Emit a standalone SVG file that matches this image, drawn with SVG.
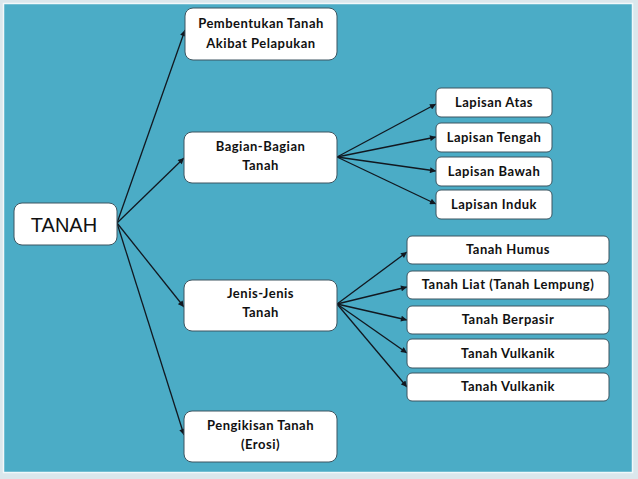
<svg xmlns="http://www.w3.org/2000/svg" width="638" height="479" viewBox="0 0 638 479">
<defs>
<marker id="ah" viewBox="0 0 10 10" refX="10" refY="5" markerWidth="7" markerHeight="6" markerUnits="userSpaceOnUse" orient="auto">
<path d="M0,0 L10,5 L0,10 z" fill="#111820"/>
</marker>
<style>
.box{fill:#ffffff;stroke:#3d5560;stroke-width:1}
.t{font-family:Lato,"Open Sans",sans-serif;font-weight:bold;font-size:13px;fill:#111;text-anchor:middle;letter-spacing:0.5px}
.root{font-family:"Liberation Sans",Arial,sans-serif;font-size:20px;fill:#111;text-anchor:middle}
.c line{stroke:#111820;stroke-width:1.3;marker-end:url(#ah)}
</style>
</defs>
<rect x="0" y="0" width="638" height="479" fill="#dbe7ec"/>
<rect x="3.5" y="3.5" width="629" height="469" fill="#4bacc6" stroke="#f2f8fa" stroke-width="1.5"/>

<g class="c" id="connectors">
<line x1="117" y1="223" x2="185" y2="30"/>
<line x1="117" y1="223" x2="184" y2="158"/>
<line x1="117" y1="223" x2="184" y2="307"/>
<line x1="117" y1="223" x2="184" y2="435"/>
<line x1="337" y1="157" x2="436" y2="104"/>
<line x1="337" y1="157" x2="436" y2="137"/>
<line x1="337" y1="157" x2="436" y2="171"/>
<line x1="337" y1="157" x2="436" y2="204"/>
<line x1="337" y1="304" x2="407" y2="252"/>
<line x1="337" y1="304" x2="407" y2="287"/>
<line x1="337" y1="304" x2="407" y2="320"/>
<line x1="337" y1="304" x2="407" y2="353"/>
<line x1="337" y1="304" x2="407" y2="387"/>
</g>

<g id="tanah"><rect class="box" x="14" y="203" width="103" height="42" rx="8"/><text class="root" x="64" y="232">TANAH</text></g>

<g id="pembentukan"><rect class="box" x="185" y="8" width="152" height="52" rx="8"/><text class="t" x="261" y="28">Pembentukan Tanah</text><text class="t" x="261" y="48">Akibat Pelapukan</text></g>
<g id="bagian"><rect class="box" x="184" y="132" width="153" height="51" rx="8"/><text class="t" x="260.5" y="151">Bagian-Bagian</text><text class="t" x="260.5" y="170">Tanah</text></g>
<g id="jenis"><rect class="box" x="184" y="280" width="153" height="51" rx="8"/><text class="t" x="260.5" y="298">Jenis-Jenis</text><text class="t" x="260.5" y="317">Tanah</text></g>
<g id="pengikisan"><rect class="box" x="184" y="411" width="153" height="51" rx="8"/><text class="t" x="260.5" y="430">Pengikisan Tanah</text><text class="t" x="260.5" y="449">(Erosi)</text></g>

<g id="lapisan-atas"><rect class="box" x="436" y="88" width="116" height="29" rx="5"/><text class="t" x="494" y="107">Lapisan Atas</text></g>
<g id="lapisan-tengah"><rect class="box" x="436" y="123" width="116" height="29" rx="5"/><text class="t" x="494" y="142">Lapisan Tengah</text></g>
<g id="lapisan-bawah"><rect class="box" x="436" y="157" width="116" height="29" rx="5"/><text class="t" x="494" y="176">Lapisan Bawah</text></g>
<g id="lapisan-induk"><rect class="box" x="436" y="190" width="116" height="29" rx="5"/><text class="t" x="494" y="209">Lapisan Induk</text></g>

<g id="tanah-humus"><rect class="box" x="407" y="236" width="202" height="28" rx="5"/><text class="t" x="508" y="254">Tanah Humus</text></g>
<g id="tanah-liat"><rect class="box" x="407" y="271" width="202" height="28" rx="5"/><text class="t" x="508" y="289">Tanah Liat (Tanah Lempung)</text></g>
<g id="tanah-berpasir"><rect class="box" x="407" y="306" width="202" height="28" rx="5"/><text class="t" x="508" y="324">Tanah Berpasir</text></g>
<g id="tanah-vulkanik-1"><rect class="box" x="407" y="339" width="202" height="29" rx="5"/><text class="t" x="508" y="358">Tanah Vulkanik</text></g>
<g id="tanah-vulkanik-2"><rect class="box" x="407" y="373" width="202" height="28" rx="5"/><text class="t" x="508" y="391">Tanah Vulkanik</text></g>
</svg>
